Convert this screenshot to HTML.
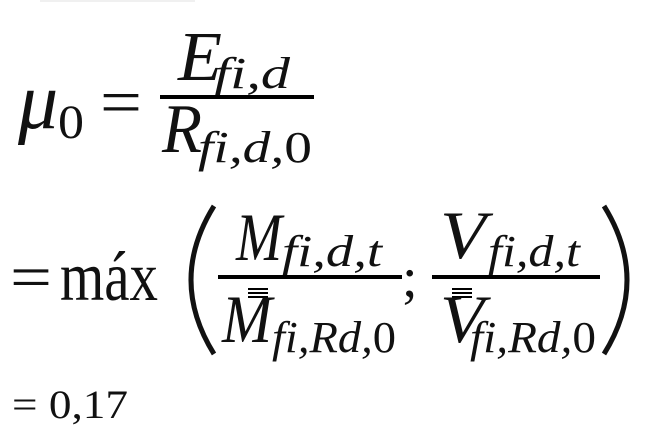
<!DOCTYPE html>
<html><head><meta charset="utf-8"><style>
html,body{margin:0;padding:0;background:#fff;width:658px;height:432px;overflow:hidden}
svg{display:block}
text{font-family:"Liberation Serif",serif;fill:#111}
.i{font-style:italic}
.u{font-style:normal}
</style></head><body>
<svg width="658" height="432" viewBox="0 0 658 432">
<rect x="40" y="0" width="155" height="2" fill="#f0f0f0"/>
<!-- line 1 -->
<text x="18" y="128" class="i" font-size="80">μ</text>
<text x="58" y="138" font-size="48" textLength="26" lengthAdjust="spacingAndGlyphs">0</text>
<text x="100" y="124" font-size="66" textLength="42" lengthAdjust="spacingAndGlyphs">=</text>
<text x="178" y="80" class="i" font-size="70" textLength="44" lengthAdjust="spacingAndGlyphs">E</text>
<text x="214" y="88" class="i" font-size="44" textLength="76" lengthAdjust="spacingAndGlyphs">fi,d</text>
<rect x="160" y="95" width="154" height="4"/>
<text x="162" y="152" class="i" font-size="70" textLength="40" lengthAdjust="spacingAndGlyphs">R</text>
<text x="198" y="162" class="i" font-size="44" textLength="114" lengthAdjust="spacingAndGlyphs">fi,d,<tspan class="u">0</tspan></text>
<!-- line 2 -->
<text x="10" y="298" font-size="62" textLength="42" lengthAdjust="spacingAndGlyphs">=</text>
<text x="60" y="300" font-size="70" textLength="98" lengthAdjust="spacingAndGlyphs">máx</text>
<path d="M214 206 Q168 280 214 354" stroke="#111" stroke-width="5" fill="none"/>
<text x="236" y="260" class="i" font-size="68" textLength="46" lengthAdjust="spacingAndGlyphs">M</text>
<text x="282" y="266" class="i" font-size="44" textLength="100" lengthAdjust="spacingAndGlyphs">fi,d,t</text>
<rect x="218" y="275" width="184" height="4"/>
<rect x="248" y="288" width="20" height="2"/>
<rect x="248" y="292" width="20" height="2"/>
<rect x="248" y="296" width="20" height="2"/>
<text x="222" y="342" class="i" font-size="68" textLength="50" lengthAdjust="spacingAndGlyphs">M</text>
<text x="272" y="352" class="i" font-size="44" textLength="124" lengthAdjust="spacingAndGlyphs">fi,Rd,<tspan class="u">0</tspan></text>
<text x="402" y="296" font-size="56">;</text>
<text x="440" y="258" class="i" font-size="68" textLength="46" lengthAdjust="spacingAndGlyphs">V</text>
<text x="488" y="266" class="i" font-size="44" textLength="92" lengthAdjust="spacingAndGlyphs">fi,d,t</text>
<rect x="432" y="275" width="168" height="4"/>
<rect x="452" y="288" width="20" height="2"/>
<rect x="452" y="292" width="20" height="2"/>
<rect x="452" y="296" width="20" height="2"/>
<text x="440" y="342" class="i" font-size="68" textLength="44" lengthAdjust="spacingAndGlyphs">V</text>
<text x="470" y="352" class="i" font-size="44" textLength="126" lengthAdjust="spacingAndGlyphs">fi,Rd,<tspan class="u">0</tspan></text>
<path d="M604 206 Q650 280 604 354" stroke="#111" stroke-width="5" fill="none"/>
<!-- line 3 -->
<text x="12" y="418" font-size="40" textLength="116" lengthAdjust="spacingAndGlyphs">= 0,17</text>
</svg>
</body></html>
